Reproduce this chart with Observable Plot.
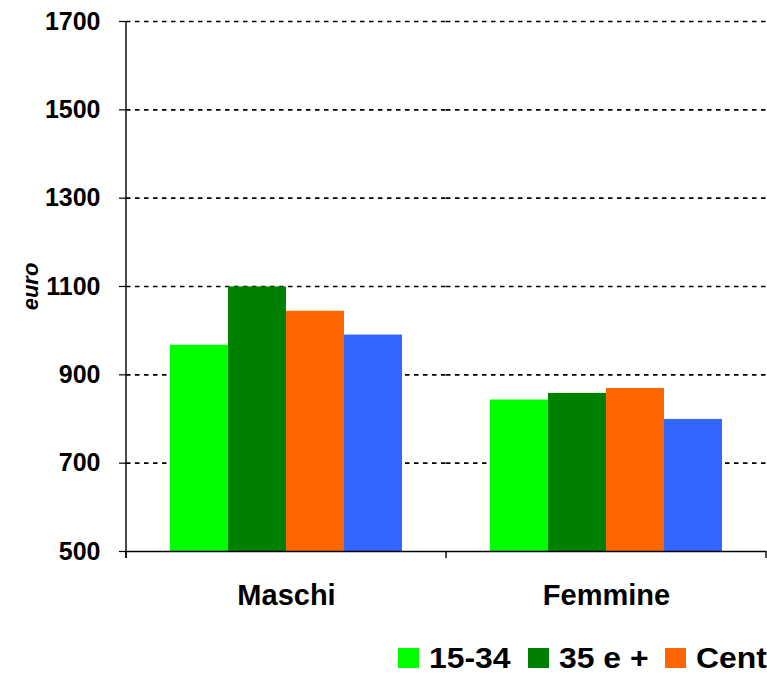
<!DOCTYPE html>
<html><head><meta charset="utf-8">
<script src="https://cdn.jsdelivr.net/npm/d3@7"></script>
<script src="https://cdn.jsdelivr.net/npm/@observablehq/plot@0.6"></script>
<style>
body{margin:0;background:#fff;font-family:"Liberation Sans",Arial,sans-serif;}
#wrap{position:relative;width:767px;height:676px;overflow:hidden;background:#fff;}
#legend{position:absolute;top:643px;left:0;width:767px;height:30px;}
.item{position:absolute;top:0;display:flex;align-items:center;height:30px;white-space:nowrap;}
.sw{width:21px;height:20px;margin-right:10px;flex:none;}
.lt{font-weight:bold;font-size:29px;color:#000;line-height:30px;display:inline-block;transform:scaleX(1.1);transform-origin:left center;}
</style></head><body><div id="wrap"><div id="chart"></div><div id="legend"></div></div>
<script>
const groups = ["Maschi", "Femmine"];
const series = ["15-34", "35 e +", "Centro-Nord", "Mezzogiorno"];
const maschiValues = [967, 1099, 1044, 990];
const femmineValues = [843, 858, 869, 799];
const yTicks = [500, 700, 900, 1100, 1300, 1500, 1700];
const colors = ["#00FF00", "#008000", "#FF6600", "#3366FF"];
const yLabel = "euro";

const data = [
  ...series.map((s, i) => ({group: groups[0], series: s, value: maschiValues[i]})),
  ...series.map((s, i) => ({group: groups[1], series: s, value: femmineValues[i]}))
];

const font = '"Liberation Sans", Arial, sans-serif';
const chart = Plot.plot({
  width: 767, height: 625,
  marginLeft: 126, marginRight: 1, marginTop: 21, marginBottom: 74,
  style: {fontFamily: font, color: "#000", background: "#fff", overflow: "visible"},
  fx: {domain: groups, padding: 0, label: null},
  x: {domain: series, paddingInner: 0, paddingOuter: 0.725, axis: null},
  y: {domain: [yTicks[0], yTicks[yTicks.length - 1]], label: null},
  color: {domain: series, range: colors},
  marks: [
    Plot.gridY(yTicks.slice(1), {stroke: "#000", strokeOpacity: 1, strokeWidth: 1.6, strokeDasharray: "4.5,4.5"}),
    Plot.barY(data, {fx: "group", x: "series", y1: yTicks[0], y2: "value", fill: "series"}),
    Plot.ruleY([yTicks[0]], {stroke: "#000", strokeWidth: 1.4}),
    Plot.axisY(yTicks, {tickSize: 7, tickPadding: 19, fontSize: 25, fontWeight: "bold", stroke: "#000", strokeWidth: 1.2,
      tickFormat: d3.format("d"),
      label: yLabel, labelAnchor: "center", labelOffset: 104, labelArrow: "none"}),
    Plot.axisFx({anchor: "bottom", tickSize: 0, tickPadding: 33, fontSize: 29, fontWeight: "bold", label: null})
  ]
});
document.getElementById("chart").appendChild(chart);

// axis line and group-boundary ticks from the plot's own scales
const fx = chart.scale("fx"), y = chart.scale("y");
const svg = d3.select(chart);
const bw = fx.bandwidth;
const edges = [...groups.map(g => fx.apply(g)), fx.apply(groups[groups.length - 1]) + bw];
const y0 = y.apply(yTicks[0]), yTop = y.apply(yTicks[yTicks.length - 1]);
const g = svg.append("g").attr("stroke", "#000").attr("stroke-width", 1.4);
g.append("line").attr("x1", edges[0]).attr("x2", edges[0]).attr("y1", yTop).attr("y2", y0 + 7);
edges.forEach(x => g.append("line").attr("x1", x).attr("x2", x).attr("y1", y0).attr("y2", y0 + 7));
svg.selectAll('g[aria-label="y-axis label"] text').style("font-style", "italic").style("font-weight", "bold").style("font-size", "22px");

// legend
const color = chart.scale("color");
const legendLeft = [398, 528, 665, 900];
const legend = document.getElementById("legend");
series.forEach((s, i) => {
  const it = document.createElement("div");
  it.className = "item";
  it.style.left = legendLeft[i] + "px";
  const sw = document.createElement("span");
  sw.className = "sw";
  sw.style.background = color.apply(s);
  const t = document.createElement("span");
  t.className = "lt";
  t.textContent = s;
  it.appendChild(sw); it.appendChild(t);
  legend.appendChild(it);
});
</script></body></html>
